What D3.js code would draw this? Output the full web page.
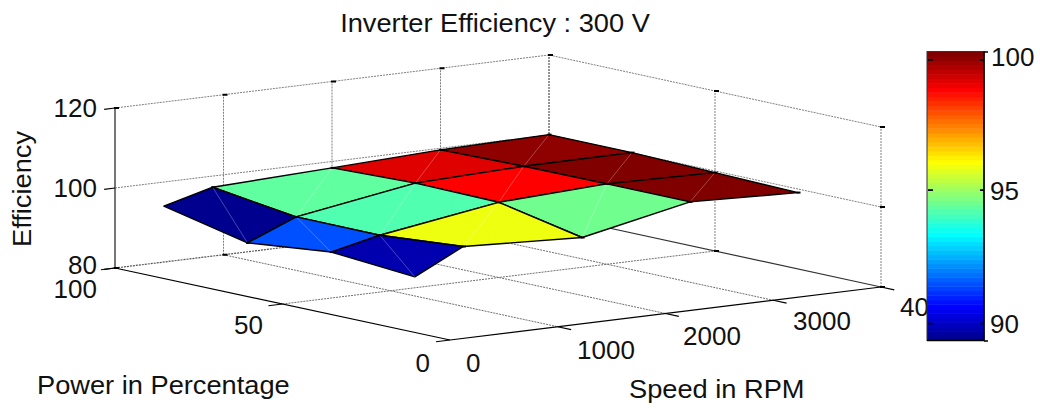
<!DOCTYPE html>
<html><head><meta charset="utf-8">
<script src="https://cdn.jsdelivr.net/npm/d3@7"></script>
<style>html,body{margin:0;padding:0;background:#fff;overflow:hidden}svg{display:block}text{font-family:"Liberation Sans",Arial,sans-serif;fill:#111}</style>
</head><body><svg id="c" width="1040" height="408"></svg>
<script>
const speeds = [450, 900, 2000, 3000, 4000];
const powers = [100, 75, 50, 25];
const eff100 = [94.0, 97.2, 98.4, 99.6, 100.1];
const eff75  = [89.3, 94.3, 99.1, 100.0, 100.1];
const eff50  = [91.5, 94.2, 98.8, 100.1, 99.6];
const eff25  = [89.8, 95.9, 94.5, 100.1, 99.1];
const effRows = [eff100, eff75, eff50, eff25];
const speedTicks = [0, 1000, 2000, 3000, 4000];
const powerTicks = [0, 50, 100];
const effTicks = [80, 100, 120];
const cbTicks = [90, 95, 100];
const cLim = [89.36, 100.2];

const svg = d3.select("#c");
const sx = d3.scaleLinear([0, 4000], [0, 431]);
const sy = d3.scaleLinear([0, 4000], [0, -53]);
const px = d3.scaleLinear([0, 100], [0, -335]);
const py = d3.scaleLinear([0, 100], [0, -72]);
const zy = d3.scaleLinear([80, 120], [0, -160]);
const O = [450, 340];
// slight perspective skew toward the back corner
const proj = (s, p, z) => [O[0] + sx(s) + px(p) + 3 * (s / 4000) * (p / 100), O[1] + sy(s) + py(p) + zy(z)];
const line = d3.line();

const clamp = v => Math.max(0, Math.min(1, v));
const jet = d3.range(1, 65).map(i => {
  const x = i / 64;
  return d3.rgb(255 * clamp(Math.min(4*x-1.5, -4*x+4.5)), 255 * clamp(Math.min(4*x-0.5, -4*x+3.5)), 255 * clamp(Math.min(4*x+0.5, -4*x+2.5))).formatHex();
});
const cScale = d3.scaleQuantize().domain(cLim).range(jet);

const grid = (pts, col = "#808080", w = 1, dash = "2 1") => svg.append("path").attr("d", line(pts)).attr("fill", "none")
  .attr("stroke", col).attr("stroke-width", w).attr("stroke-dasharray", dash);
const S0 = 0, S1 = 4000, P0 = 0, P1 = 100, Z0 = 80, Z1 = 120;

// walls
effTicks.forEach(z => {
  if (z === 80) return;
  grid([proj(S0, P1, z), proj(S1, P1, z), proj(S1, P0, z)]);
});
speedTicks.forEach(s => {
  grid([proj(s, P1, Z0), proj(s, P1, Z1)], s === 0 ? "#555" : s === 4000 ? "#666" : "#808080", s === 0 ? 1.6 : s === 4000 ? 1.4 : 1, s === 0 ? null : "2 1");
});
powerTicks.forEach(p => { if (p !== 100) grid([proj(S1, p, Z0), proj(S1, p, Z1)]); });
// floor
speedTicks.slice(1, 4).forEach(s => grid([proj(s, P1, Z0), proj(s, P0, Z0)], "#707070"));
grid([proj(S0, 50, Z0), proj(S1, 50, Z0)], "#707070");
grid([proj(S0, P1, Z0), proj(S1, P1, Z0)], "#555", 1.2);
grid([proj(S1, P1, Z0), proj(S1, P0, Z0)], "#333", 1.2, null);
grid([proj(S0, P1, Z0), proj(S0, P0, Z0)], "#000", 1.2, null);
grid([proj(S0, P0, Z0), proj(S1, P0, Z0)], "#000", 1.2, null);

// tick stubs
const mark = ([x, y]) => svg.append("rect").attr("x", x - 1).attr("y", y - 1).attr("width", 5).attr("height", 2).attr("fill", "#000");
speedTicks.forEach(s => { mark(proj(s, P1, Z1)); mark(proj(s, P1, Z0)); });
powerTicks.forEach(p => { mark(proj(S1, p, Z1)); mark(proj(S1, p, Z0)); });
mark(proj(S1, P0, 100));
const stub = (a, b) => svg.append("path").attr("d", line([a, b])).attr("stroke", "#000").attr("stroke-width", 1.2).attr("fill", "none");
speedTicks.slice(1).forEach(s => { const a = proj(s, P0, Z0); stub(a, proj(s, -4, Z0)); });
powerTicks.forEach(p => { const a = proj(S0, p, Z0); stub(a, proj(-130, p, Z0)); });
effTicks.forEach(z => { const a = proj(S0, P1, z); stub(a, proj(-100, P1, z)); });

// surface, back to front
const vert = (j, i) => proj(speeds[i], powers[j], effRows[j][i]);
for (let j = 0; j < powers.length - 1; j++) {
  for (let i = speeds.length - 2; i >= 0; i--) {
    const q = [vert(j, i), vert(j, i + 1), vert(j + 1, i + 1), vert(j + 1, i)];
    svg.append("path").attr("d", line(q) + "Z").attr("fill", cScale(effRows[j + 1][i]))
      .attr("stroke", "#000").attr("stroke-width", 1.4).attr("stroke-linejoin", "round");
    svg.append("path").attr("d", line([vert(j, i + 1), vert(j + 1, i)])).attr("stroke", "#fff")
      .attr("stroke-opacity", 0.35).attr("stroke-width", 0.8).attr("fill", "none");
  }
}
powers.forEach((p, j) => speeds.forEach((s, i) => {
  const [x, y] = vert(j, i);
  if (!(j === 3 && i === 0) && !(j === 0 && i === 0)) svg.append("rect").attr("x", x - 1.5).attr("y", y - 1).attr("width", 4).attr("height", 2).attr("fill", "#000");
}));

// text
const label = (t, x, y, size, anchor = "start", rot = 0, k = 1) => svg.append("text").text(t)
  .attr("transform", `translate(${x},${y}) rotate(${rot}) scale(${k},1)`).attr("text-anchor", anchor).attr("font-size", size);
const F = 26, FL = 25, KL = 1.09;
label("Inverter Efficiency : 300 V", 495, 32, FL, "middle", 0, KL);
const effBase = {80: 274, 100: 197, 120: 117};
effTicks.forEach(z => label(z, 97, effBase[z], F, "end"));
label("Efficiency", 31, 189, FL, "middle", -90, KL);
label(100, 97, 298, F, "end");
label(50, 263, 334, F, "end");
label(0, 430, 372, F, "end");
label("Power in Percentage", 37, 394, FL, "start", 0, KL);
label("Speed in RPM", 629, 398, FL, "start", 0, KL);
const sLabelX = {0: 466, 1000: 577, 2000: 683, 3000: 793, 4000: 900};
const sLabelY = {0: 372, 1000: 359, 2000: 345, 3000: 330, 4000: 316};
speedTicks.forEach(s => label(s, sLabelX[s], sLabelY[s], F));

// colourbar
const cbX = 927, cbW = 57, cbY = d3.scaleLinear(cLim, [340.5, 51.5]);
const cbBands = jet.map((c, i) => ({ c, i }));
svg.append("rect").attr("x", cbX).attr("y", 51).attr("width", cbW).attr("height", 290).attr("fill", "#fff");
const lvl = d3.scaleLinear([0, 64], cLim);
svg.selectAll(".band").data(cbBands).join("rect").attr("class", "band")
  .attr("x", cbX).attr("width", cbW)
  .attr("y", d => cbY(lvl(d.i + 1))).attr("height", d => cbY(lvl(d.i)) - cbY(lvl(d.i + 1)) + 0.5)
  .attr("fill", d => d.c);
svg.append("rect").attr("x", cbX).attr("y", 51.5).attr("width", cbW).attr("height", 289).attr("fill", "none").attr("stroke", "#333").attr("stroke-width", 1);
svg.append("path").attr("d", line([[cbX + cbW, 51.5], [cbX + cbW, 340.5], [cbX, 340.5]])).attr("fill", "none").attr("stroke", "#000").attr("stroke-width", 1.6);
const cbBase = {90: 333, 95: 200, 100: 66};
cbTicks.forEach(t => {
  const y = cbY(t) + (t === 100 ? 3 : 0);
  svg.append("path").attr("d", `M${cbX + 1},${y}h5M${cbX + cbW - 4},${y}h4`).attr("stroke", "#000").attr("stroke-width", 1.6);
  label(t, t === 100 ? 991 : 990, cbBase[t], F);
});
svg.append("path").attr("d", `M${cbX + cbW},52h4M${cbX + cbW},341h4`).attr("stroke", "#000").attr("stroke-width", 1.6);
</script></body></html>
